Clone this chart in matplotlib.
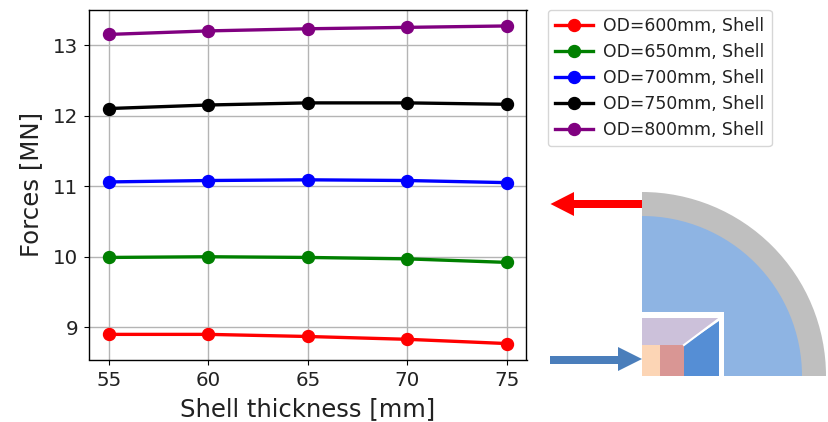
import matplotlib
matplotlib.use('Agg')
from matplotlib import pyplot as plt
from matplotlib.patches import Polygon, Rectangle, Wedge

thickness = [55, 60, 65, 70, 75]
od_600 = [8.90, 8.90, 8.87, 8.83, 8.77]
od_650 = [9.99, 10.00, 9.99, 9.97, 9.92]
od_700 = [11.06, 11.08, 11.09, 11.08, 11.05]
od_750 = [12.10, 12.15, 12.18, 12.18, 12.16]
od_800 = [13.15, 13.20, 13.23, 13.25, 13.27]
series = [od_600, od_650, od_700, od_750, od_800]
labels = ['OD=600mm, Shell', 'OD=650mm, Shell', 'OD=700mm, Shell', 'OD=750mm, Shell', 'OD=800mm, Shell']
colors = ['red', 'green', 'blue', 'black', 'purple']

W, H = 829, 422
fig = plt.figure(figsize=(W/100, H/100), dpi=100)

#Main plot, position given in pixels of the reference
ax = fig.add_axes([89/W, 1-359.5/H, (526.5-89)/W, 349.5/H])
for vals, lab, col in zip(series, labels, colors):
    ax.plot(thickness, vals, '-o', color=col, lw=2.4, ms=8.6, label=lab)
ax.set_xlim(54, 76)
ax.set_ylim(8.544, 13.496)
ax.set_xticks(thickness)
ax.set_yticks([9, 10, 11, 12, 13])
ax.tick_params(labelsize=14.3, labelcolor='#222222', pad=4.5)
ax.grid(True, color='#b4b4b4', lw=1.0)
ax.set_xlabel('Shell thickness [mm]', fontsize=17.5, color='#222222', labelpad=5.5)
ax.set_ylabel('Forces [MN]', fontsize=17.6, color='#222222', labelpad=6.5)
for s in ax.spines.values():
    s.set_linewidth(1.0)

ax.legend(loc='upper left', bbox_to_anchor=(548/W, 1-10/H), bbox_transform=fig.transFigure,
          fontsize=12.4, borderaxespad=0, labelspacing=0.47, handlelength=2.2, handletextpad=0.62,
          labelcolor='#222222')

#Sketch of the magnet cross section, drawn in pixel coordinates
sk = fig.add_axes([0, 0, 1, 1])
sk.set_xlim(0, W)
sk.set_ylim(H, 0)
sk.axis('off')
sk.patch.set_alpha(0)

cx, cy = 642, 376
sk.add_patch(Wedge((cx, cy), 184, 270, 360, color='#bfbfbf', lw=0))
sk.add_patch(Wedge((cx, cy), 160, 270, 360, color='#8eb4e3', lw=0))
sk.add_patch(Rectangle((642, 312), 82, 64, color='white', lw=0))
sk.add_patch(Polygon([(642, 318), (719, 318), (684, 345), (642, 345)], color='#ccc1da', lw=0))
sk.add_patch(Polygon([(684, 345), (719, 321), (719, 376), (684, 376)], color='#558ed5', lw=0))
sk.add_patch(Rectangle((642, 345), 18, 31, color='#fcd5b5', lw=0))
sk.add_patch(Rectangle((660, 345), 24, 31, color='#d99694', lw=0))
sk.plot([684, 720], [345, 318], color='white', lw=1.5)

#Red and blue arrows
sk.add_patch(Polygon([(642, 200), (574, 200), (574, 192), (550.5, 204), (574, 216), (574, 208), (642, 208)],
                     color='red', lw=0))
sk.add_patch(Polygon([(550, 356), (618, 356), (618, 347), (642, 359), (618, 371), (618, 364), (550, 364)],
                     color='#4a7ebb', lw=0))

fig.savefig('out.png', dpi=100)
